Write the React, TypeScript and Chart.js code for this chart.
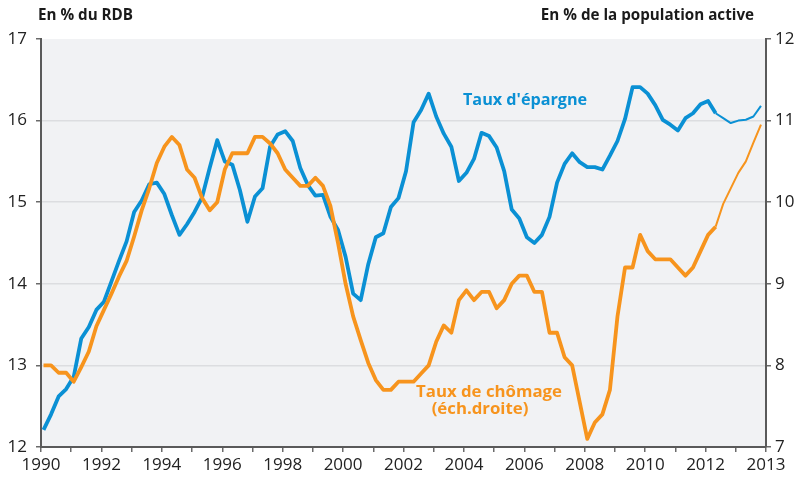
import React, { useEffect, useRef } from "react";
import { Chart, registerables } from "chart.js";

Chart.register(...registerables);

// Quarterly series, 1990 Q1 .. 2013 Q4
const firstYear = 1990;
const savingsRate = [
  12.21, 12.4, 12.62, 12.71, 12.86, 13.33, 13.47, 13.68, 13.78, 14.03, 14.28, 14.52,
  14.88, 15.02, 15.22, 15.24, 15.1, 14.84, 14.6, 14.73, 14.88, 15.06, 15.42, 15.76,
  15.5, 15.46, 15.15, 14.76, 15.07, 15.17, 15.68, 15.83, 15.87, 15.75, 15.42, 15.21,
  15.08, 15.09, 14.82, 14.66, 14.33, 13.88, 13.8, 14.24, 14.57, 14.62, 14.94, 15.05,
  15.38, 15.98, 16.13, 16.33, 16.05, 15.84, 15.68, 15.26, 15.36, 15.53, 15.85, 15.81,
  15.67, 15.38, 14.91, 14.8, 14.57, 14.5, 14.6, 14.82, 15.24, 15.47, 15.6, 15.49,
  15.43, 15.43, 15.4, 15.57, 15.75, 16.02, 16.41, 16.41, 16.33, 16.19, 16.01, 15.95,
  15.88, 16.03, 16.09, 16.2, 16.24, 16.09, 16.03, 15.97, 16.0, 16.01, 16.05, 16.18,
];
const unemploymentRate = [
  8.0, 8.0, 7.91, 7.91, 7.8, 7.98, 8.17, 8.48, 8.68, 8.88, 9.09, 9.28,
  9.58, 9.9, 10.17, 10.48, 10.68, 10.8, 10.7, 10.4, 10.3, 10.05, 9.9, 10.0,
  10.4, 10.6, 10.6, 10.6, 10.8, 10.8, 10.72, 10.6, 10.4, 10.3, 10.2, 10.2,
  10.3, 10.2, 9.95, 9.5, 9.0, 8.6, 8.31, 8.03, 7.82, 7.7, 7.7, 7.8,
  7.8, 7.8, 7.9, 8.0, 8.29, 8.49, 8.4, 8.8, 8.92, 8.8, 8.9, 8.9,
  8.7, 8.8, 9.0, 9.1, 9.1, 8.9, 8.9, 8.4, 8.4, 8.1, 8.0, 7.55,
  7.1, 7.3, 7.4, 7.7, 8.6, 9.2, 9.2, 9.6, 9.4, 9.3, 9.3, 9.3,
  9.2, 9.1, 9.2, 9.4, 9.6, 9.7, 9.98, 10.17, 10.36, 10.5, 10.73, 10.95,
];
// index from which the series are forecasts (thin line)
const forecastFrom = 89;

const xTickYears = [1990, 1992, 1994, 1996, 1998, 2000, 2002, 2004, 2006, 2008, 2010, 2012, 2014];
const xTickLabels = ["1990", "1992", "1994", "1996", "1998", "2000", "2002", "2004", "2006", "2008", "2010", "2012", "2013"];
const leftTicks = [12, 13, 14, 15, 16, 17];
const rightTicks = [7, 8, 9, 10, 11, 12];

const leftTitle = "En % du RDB";
const rightTitle = "En % de la population active";
const savingsLabel = "Taux d'épargne";
const unemploymentLabel = ["Taux de chômage", "(éch.droite)"];

const BLUE = "#0a90d4";
const ORANGE = "#f7941d";
const FONT = '"Open Sans", "DejaVu Sans", sans-serif';

export default function App() {
  const ref = useRef<HTMLCanvasElement>(null);

  useEffect(() => {
    if (!ref.current) return;
    const toPoints = (arr: number[]) =>
      arr.map((v, i) => ({ x: firstYear + 1 / 12 + i / 4, y: v }));

    const bgPlugin = {
      id: "bg",
      beforeDraw(chart: any) {
        const { ctx, chartArea } = chart;
        ctx.save();
        ctx.fillStyle = "#f1f2f4";
        ctx.fillRect(chartArea.left, chartArea.top, chartArea.right - chartArea.left, chartArea.bottom - chartArea.top);
        ctx.restore();
      },
      afterDraw(chart: any) {
        const { ctx } = chart;
        ctx.save();
        ctx.textBaseline = "middle";
        ctx.fillStyle = "#1a1a1a";
        ctx.font = `bold 15.2px ${FONT}`;
        ctx.textAlign = "left";
        ctx.fillText(leftTitle, 38, 16);
        ctx.textAlign = "right";
        ctx.fillText(rightTitle, 754, 16);

        ctx.fillStyle = BLUE;
        ctx.font = `bold 16.2px ${FONT}`;
        ctx.textAlign = "left";
        ctx.fillText(savingsLabel, 463, 100);

        ctx.fillStyle = ORANGE;
        ctx.font = `bold 16.8px ${FONT}`;
        ctx.textAlign = "center";
        ctx.fillText(unemploymentLabel[0], 489, 392);
        ctx.fillText(unemploymentLabel[1], 480, 409);
        ctx.restore();
      },
    };

    const segWidth = (ctx: any) => (ctx.p0DataIndex >= forecastFrom ? 2 : 3.8);

    const chart = new Chart(ref.current, {
      type: "line",
      data: {
        datasets: [
          {
            label: savingsLabel,
            data: toPoints(savingsRate),
            borderColor: BLUE,
            borderWidth: 3.8,
            pointRadius: 0,
            tension: 0,
            borderJoinStyle: "round",
            yAxisID: "yL",
            order: 1,
            segment: { borderWidth: segWidth },
          } as any,
          {
            label: unemploymentLabel.join(" "),
            data: toPoints(unemploymentRate),
            borderColor: ORANGE,
            borderWidth: 3.8,
            pointRadius: 0,
            tension: 0,
            borderJoinStyle: "round",
            yAxisID: "yR",
            order: 0,
            segment: { borderWidth: segWidth },
          } as any,
        ],
      },
      options: {
        animation: false,
        responsive: false,
        devicePixelRatio: 1,
        layout: { padding: { top: 39, left: 0, right: 0, bottom: 0 } },
        plugins: { legend: { display: false }, tooltip: { enabled: false } },
        scales: {
          x: {
            type: "linear",
            min: 1990,
            max: 2014,
            afterFit: (s: any) => { s.height = 32; },
            afterBuildTicks: (s: any) => {
              const t = [];
              for (let y = 1990; y <= 2014; y++) t.push({ value: y });
              s.ticks = t;
            },
            ticks: {
              autoSkip: false,
              maxRotation: 0,
              padding: 3,
              color: "#222",
              font: { family: FONT, size: 17 },
              callback: (v: any) => {
                const k = xTickYears.indexOf(Number(v));
                return k >= 0 ? xTickLabels[k] : "";
              },
            },
            grid: { drawOnChartArea: false, drawTicks: true, tickLength: 5, tickColor: "#6a6a6a", lineWidth: 1.5 },
            border: { display: true, color: "#5a5a5a", width: 2 },
          },
          yL: {
            type: "linear",
            position: "left",
            min: 12,
            max: 17,
            afterFit: (s: any) => { s.width = 41; },
            afterBuildTicks: (s: any) => { s.ticks = leftTicks.map((v) => ({ value: v })); },
            ticks: { padding: 9, color: "#222", font: { family: FONT, size: 17 } },
            grid: {
              drawTicks: true,
              tickLength: 5,
              tickColor: "#6a6a6a",
              lineWidth: 1.5,
              color: (c: any) => (c.tick && c.tick.value === 17 ? "rgba(0,0,0,0)" : "#dcdde0"),
            },
            border: { display: true, color: "#5a5a5a", width: 2 },
          },
          yR: {
            type: "linear",
            position: "right",
            min: 7,
            max: 12,
            afterFit: (s: any) => { s.width = 33; },
            afterBuildTicks: (s: any) => { s.ticks = rightTicks.map((v) => ({ value: v })); },
            ticks: { padding: 4, color: "#222", font: { family: FONT, size: 17 } },
            grid: { drawOnChartArea: false, drawTicks: true, tickLength: 5, tickColor: "#6a6a6a", lineWidth: 1.5 },
            border: { display: true, color: "#5a5a5a", width: 2 },
          },
        },
      } as any,
      plugins: [bgPlugin],
    });
    return () => chart.destroy();
  }, []);

  return (
    <div style={{ position: "absolute", left: 0, top: 0, width: 799, height: 479, background: "#fff" }}>
      <canvas ref={ref} width={799} height={479} style={{ display: "block" }} />
    </div>
  );
}
